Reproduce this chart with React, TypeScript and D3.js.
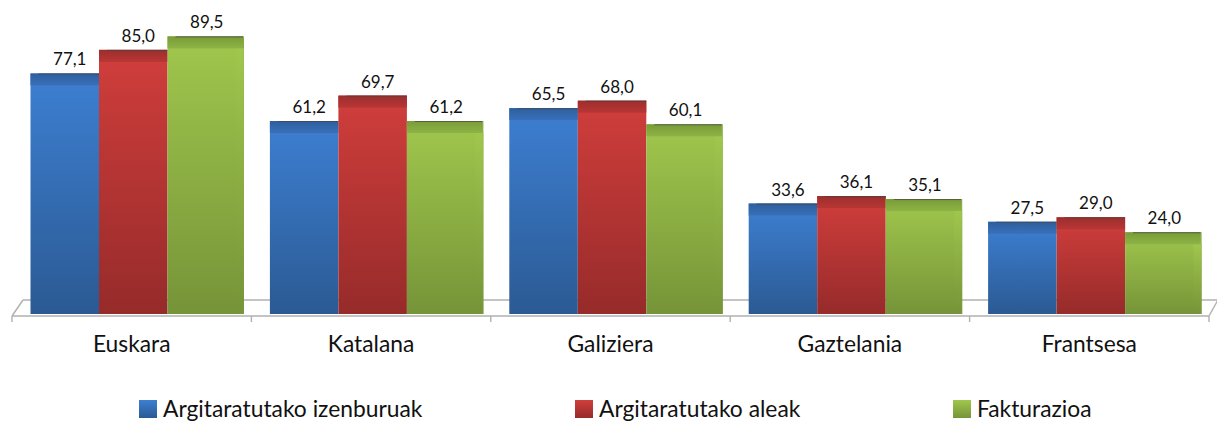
import React from "react";
import * as d3 from "d3";

const categories = ["Euskara", "Katalana", "Galiziera", "Gaztelania", "Frantsesa"];
const seriesNames = ["Argitaratutako izenburuak", "Argitaratutako aleak", "Fakturazioa"];
const izenburuak = [77.1, 61.2, 65.5, 33.6, 27.5];
const aleak = [85.0, 69.7, 68.0, 36.1, 29.0];
const fakturazioa = [89.5, 61.2, 60.1, 35.1, 24.0];
const seriesValues = [izenburuak, aleak, fakturazioa];

const palette = [
  { top: "#3d7fd2", bottom: "#2b5a93", bandTop: "#2e5f9e", bandBottom: "#3870b8", side: "#2a5690" },
  { top: "#d03e3c", bottom: "#962b2a", bandTop: "#9c2e2d", bandBottom: "#b83635", side: "#8f2928" },
  { top: "#a0c74d", bottom: "#769438", bandTop: "#799b37", bandBottom: "#8db446", side: "#7d9d3b" },
];

const W = 1217;
const H = 421;
const FONT = "Lato, 'Open Sans', sans-serif";

export default function App() {
  const x = d3.scaleBand<string>().domain(categories).range([12, 1209]).padding(0);
  const inner = d3.scaleBand<number>().domain([0, 1, 2]).range([18.5, 18.5 + 3 * 68.5]).padding(0);
  const y = d3.scaleLinear().domain([0, 100]).range([304, 5]);
  const floorFront = 316;
  const floorBack = 300;
  const barBottom = 314;
  const band = 12;
  const sideW = 7;

  const fmt = (v: number) => v.toFixed(1).replace(".", ",");

  return (
    <svg width={W} height={H} style={{ position: "absolute", left: 0, top: 0, background: "#fff" }}>
      <defs>
        {palette.map((p, i) => (
          <React.Fragment key={i}>
            <linearGradient id={`front${i}`} x1="0" y1="0" x2="0" y2="1">
              <stop offset="0" stopColor={p.top} />
              <stop offset="1" stopColor={p.bottom} />
            </linearGradient>
            <linearGradient id={`band${i}`} x1="0" y1="0" x2="0" y2="1">
              <stop offset="0" stopColor={p.bandTop} />
              <stop offset="1" stopColor={p.bandBottom} />
            </linearGradient>
            <linearGradient id={`leg${i}`} x1="0" y1="0" x2="0" y2="1">
              <stop offset="0" stopColor={p.top} />
              <stop offset="1" stopColor={p.bottom} />
            </linearGradient>
          </React.Fragment>
        ))}
      </defs>

      {/* floor */}
      <g stroke="#b0b0b0" strokeWidth={1.4} fill="none">
        <line x1={23} y1={floorBack} x2={1217} y2={floorBack} />
        <line x1={12} y1={floorFront} x2={23} y2={floorBack} />
        <line x1={1209} y1={floorFront} x2={1219} y2={floorBack - 2} />
        <line x1={12} y1={floorFront} x2={1209} y2={floorFront} />
        {[...categories.map((c) => x(c)!), 1209].map((t, i) => (
          <line key={i} x1={t} y1={floorFront} x2={t} y2={floorFront + 6} />
        ))}
      </g>

      {/* bars */}
      {categories.map((c, ci) => (
        <g key={c}>
          {seriesValues.map((vals, si) => {
            const v = vals[ci];
            const bx = x(c)! + inner(si)!;
            const bw = inner.bandwidth();
            const top = y(v);
            const hasSide = si === 2;
            return (
              <g key={si}>
                {hasSide && (
                  <rect x={bx + bw} y={top} width={sideW + 1} height={barBottom - top} fill={palette[si].side} opacity={0.9} />
                )}
                <rect x={bx} y={top} width={bw + (hasSide ? sideW : 0)} height={barBottom - top} fill={`url(#front${si})`} />
                {hasSide && (
                  <rect x={bx + bw} y={top + band} width={sideW + 1} height={barBottom - top - band} fill={`url(#front${si})`} opacity={0.85} />
                )}
                <rect x={bx} y={top} width={bw + (hasSide ? sideW : 0)} height={band} fill={`url(#band${si})`} />
                <line x1={bx + 8} y1={top + 0.5} x2={bx + bw + (hasSide ? sideW : 0)} y2={top + 0.5} stroke="#444" strokeWidth={1} opacity={0.7} />
              </g>
            );
          })}
          {seriesValues.map((vals, si) => {
            const v = vals[ci];
            const bx = x(c)! + inner(si)!;
            const bw = inner.bandwidth();
            return (
              <text key={`l${si}`} x={bx + bw / 2 + 5} y={y(v) - 8} textAnchor="middle" fontFamily={FONT} fontSize={17} fill="#111">
                {fmt(v)}
              </text>
            );
          })}
          <text x={x(c)! + x.bandwidth() / 2} y={352} textAnchor="middle" fontFamily={FONT} fontSize={22.8} fill="#111">
            {c}
          </text>
        </g>
      ))}

      {/* legend */}
      {seriesNames.map((n, i) => {
        const lx = [139, 575, 953][i];
        return (
          <g key={n}>
            <rect x={lx} y={400} width={18} height={18} fill={`url(#leg${i})`} />
            <text x={lx + 24} y={417} fontFamily={FONT} fontSize={22.8} fill="#111">
              {n}
            </text>
          </g>
        );
      })}
    </svg>
  );
}
